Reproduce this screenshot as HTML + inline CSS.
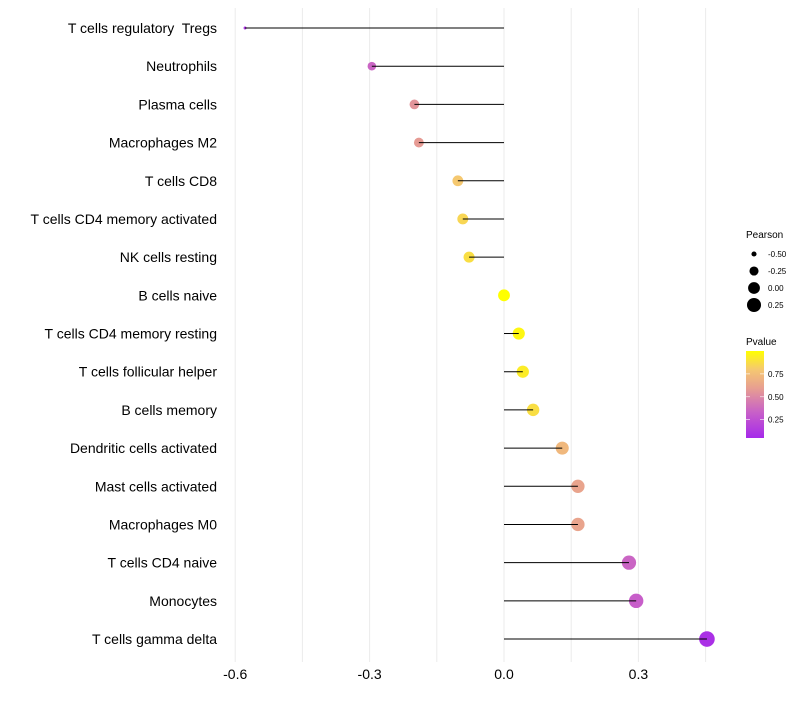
<!DOCTYPE html>
<html><head><meta charset="utf-8"><style>
body{margin:0;background:#fff;font-family:"Liberation Sans",sans-serif}
</style></head><body>
<svg id="c" width="800" height="700" xmlns="http://www.w3.org/2000/svg"></svg>
<script>
const categories=["T cells regulatory  Tregs","Neutrophils","Plasma cells","Macrophages M2","T cells CD8","T cells CD4 memory activated","NK cells resting","B cells naive","T cells CD4 memory resting","T cells follicular helper","B cells memory","Dendritic cells activated","Mast cells activated","Macrophages M0","T cells CD4 naive","Monocytes","T cells gamma delta"];
const pearson=[-0.578,-0.295,-0.20,-0.19,-0.103,-0.092,-0.078,0,0.033,0.042,0.065,0.13,0.165,0.165,0.279,0.295,0.453];
const pvalue=[0.1,0.35,0.55,0.58,0.8,0.85,0.88,1.0,0.97,0.93,0.88,0.72,0.62,0.62,0.35,0.32,0.08];
const xTicks=[-0.6,-0.3,0.0,0.3];
const xTickLabels=["-0.6","-0.3","0.0","0.3"];
const sizeLegend=[-0.5,-0.25,0,0.25];
const sizeLegendLabels=["-0.50","-0.25","0.00","0.25"];
const colorLegend=[0.75,0.5,0.25];

const svg=document.getElementById('c');
const NS="http://www.w3.org/2000/svg";
function mk(t,a,p){const e=document.createElementNS(NS,t);for(const k in a)e.setAttribute(k,a[k]);(p||svg).appendChild(e);return e;}
const x=v=>504+v*448;
const y=i=>28+i*38.19;
const r=v=>Math.sqrt(Math.max(2.2,35+57*v));
const stops=[[0,[160,32,240]],[0.33,[200,96,200]],[0.6,[232,160,144]],[0.8,[245,200,112]],[1,[255,255,0]]];
function col(p){for(let i=1;i<stops.length;i++){if(p<=stops[i][0]){const a=stops[i-1],b=stops[i],t=(p-a[0])/(b[0]-a[0]);return 'rgb('+a[1].map((c,j)=>Math.round(c+(b[1][j]-c)*t)).join(',')+')';}}return 'rgb(255,255,0)';}
for(let v=-0.6;v<=0.46;v+=0.15){const g=mk('line',{x1:x(v),x2:x(v),y1:8,y2:662,stroke:'#ebebeb','stroke-width':1});

}
xTicks.forEach((v,i)=>{const t=mk('text',{x:x(v),y:679,'text-anchor':'middle','font-size':14,fill:'#000'});t.textContent=xTickLabels[i];

});
categories.forEach((c,i)=>{
const t=mk('text',{x:217,y:y(i)+5,'text-anchor':'end','font-size':14,fill:'#000'});t.setAttribute('xml:space','preserve');t.style.whiteSpace='pre';t.textContent=c;


const d=mk('circle',{cx:x(pearson[i]),cy:y(i),r:r(pearson[i]),fill:col(pvalue[i])});


const l=mk('line',{x1:x(0),x2:x(pearson[i]),y1:y(i),y2:y(i),stroke:'#000','stroke-width':1});


});
let t=mk('text',{x:746,y:238,'font-size':10});t.textContent='Pearson';


sizeLegend.forEach((v,i)=>{const yy=254+i*17;
const c=mk('circle',{cx:754,cy:yy,r:r(v),fill:'#000'});


const tt=mk('text',{x:768,y:yy+3,'font-size':8});tt.textContent=sizeLegendLabels[i];

});
t=mk('text',{x:746,y:345,'font-size':10});t.textContent='Pvalue';


const defs=mk('defs',{});const lg=mk('linearGradient',{id:'g',x1:0,y1:1,x2:0,y2:0},defs);
for(let p=0.05;p<=1.0001;p+=0.05){mk('stop',{offset:(p-0.05)/0.95,'stop-color':col(p)},lg);}
const cb=mk('rect',{x:746,y:351,width:18,height:87,fill:'url(#g)'});


const cy=p=>438-(p-0.05)/0.95*87;
colorLegend.forEach(p=>{mk('line',{x1:746,x2:750,y1:cy(p),y2:cy(p),stroke:'#fff','stroke-width':0.6});mk('line',{x1:760,x2:764,y1:cy(p),y2:cy(p),stroke:'#fff','stroke-width':0.6});
const tt=mk('text',{x:768,y:cy(p)+3,'font-size':8});tt.textContent=p.toFixed(2);

});
</script>
</body></html>
